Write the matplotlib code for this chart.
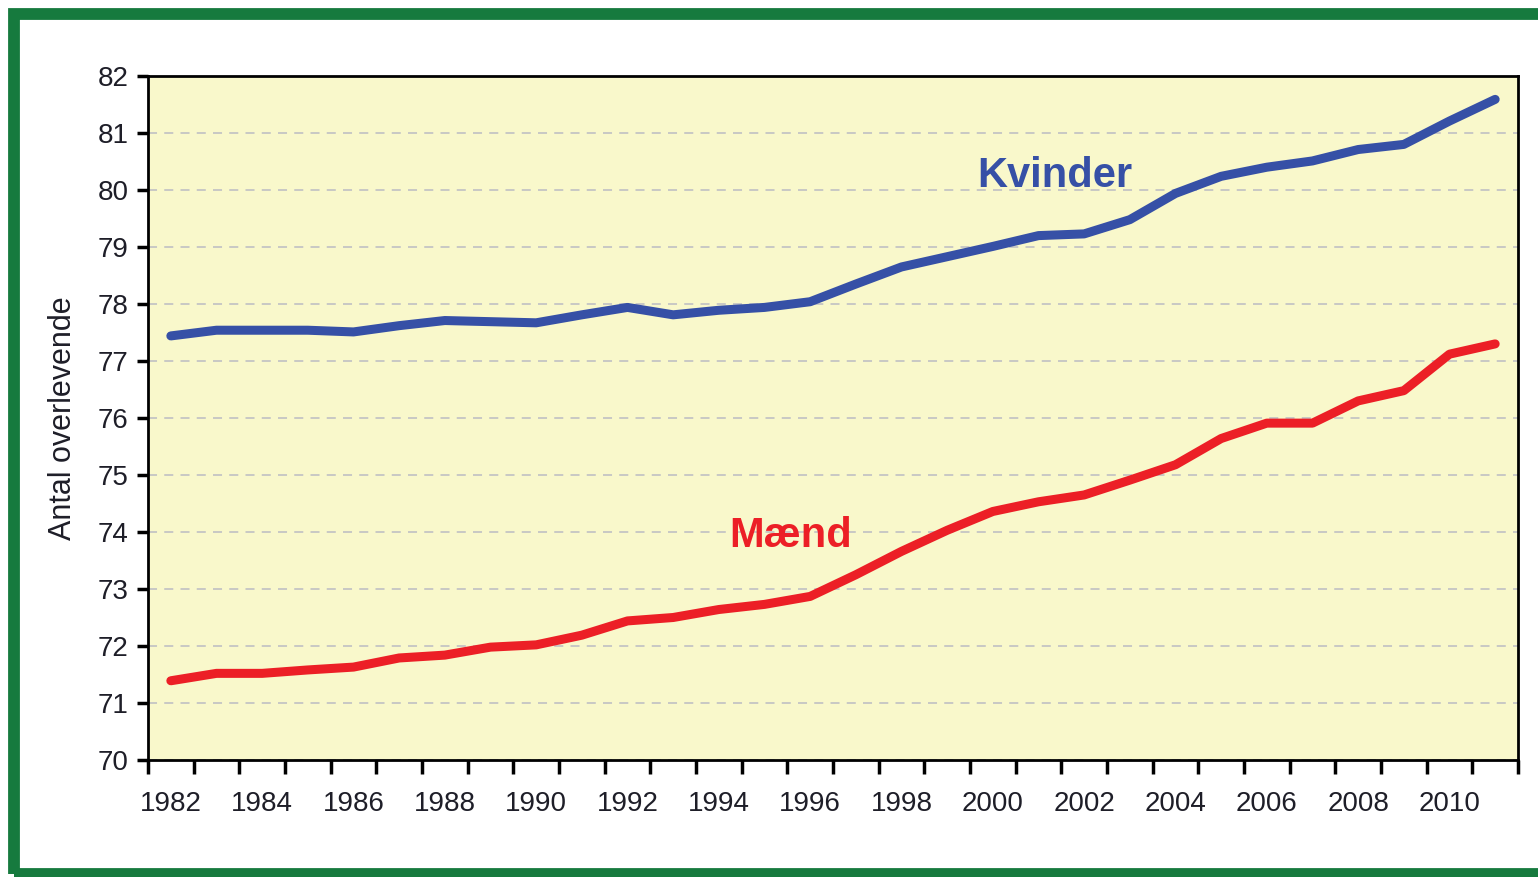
import numpy as np
import matplotlib
matplotlib.use('Agg')
from matplotlib import pyplot as plt
from matplotlib.patches import Rectangle

years = list(range(1982, 2012))
kvinder = [77.44, 77.54, 77.54, 77.54, 77.51, 77.62, 77.71, 77.69, 77.67, 77.81,
           77.94, 77.81, 77.89, 77.94, 78.04, 78.35, 78.65, 78.83, 79.01, 79.20,
           79.23, 79.48, 79.94, 80.24, 80.40, 80.51, 80.71, 80.80, 81.21, 81.59]
maend = [71.39, 71.52, 71.52, 71.58, 71.63, 71.79, 71.84, 71.98, 72.02, 72.19,
         72.44, 72.50, 72.64, 72.73, 72.87, 73.25, 73.66, 74.03, 74.36, 74.53,
         74.65, 74.91, 75.18, 75.64, 75.91, 75.91, 76.30, 76.48, 77.12, 77.30]
tick_years = list(range(1982, 2011, 2))
y_ticks = list(range(70, 83))

plt.rcParams['font.family'] = ['Liberation Sans', 'DejaVu Sans']

fig = plt.figure(figsize=(15.38, 8.77), dpi=100)
fig.patch.set_facecolor('white')

# green frame around the whole figure
frame = Rectangle((14 / 1538, 3 / 877), 1.2, 1 - 17 / 877, transform=fig.transFigure,
                  fill=False, edgecolor='#167A3E', linewidth=8.5, zorder=0)
fig.patches.append(frame)

ax = fig.add_axes([148 / 1538, 1 - 760 / 877, (1518 - 148) / 1538, (760 - 76) / 877])
ax.set_facecolor('#F9F8CB')

ax.plot(years, kvinder, color='#3650A6', linewidth=6.5, solid_capstyle='round',
        solid_joinstyle='round', zorder=3)
ax.plot(years, maend, color='#EC1F26', linewidth=6.5, solid_capstyle='round',
        solid_joinstyle='round', zorder=3)

ax.text(2001.35, 80.25, 'Kvinder', color='#3650A6', fontsize=30, fontweight='bold',
        ha='center', va='center')
ax.text(1995.57, 73.93, 'Mænd', color='#EC1F26', fontsize=30, fontweight='bold',
        ha='center', va='center')

ax.set_xlim(1981.5, 2011.5)
ax.set_ylim(70, 82)
ax.set_yticks(y_ticks)
ax.set_yticklabels([str(v) for v in y_ticks], fontsize=20, color='#1E1E28')
ax.set_xticks(tick_years)
ax.set_xticklabels([str(v) for v in tick_years], fontsize=20, color='#1E1E28')
ax.set_xticks(np.arange(1981.5, 2012, 1), minor=True)
ax.tick_params(axis='x', which='major', length=0, pad=22)
ax.tick_params(axis='x', which='minor', length=10, width=2.5, direction='out')
ax.tick_params(axis='y', which='major', length=8, width=2.5, direction='out', pad=6)

ax.grid(axis='y', color='#C4C4C4', linestyle=(0, (5, 4)), linewidth=1.3, zorder=1)
for s in ax.spines.values():
    s.set_linewidth(2)
    s.set_color('black')

ax.set_ylabel('Antal overlevende', fontsize=22, color='#1E1E28', labelpad=14)

fig.savefig('out.png', dpi=100)
